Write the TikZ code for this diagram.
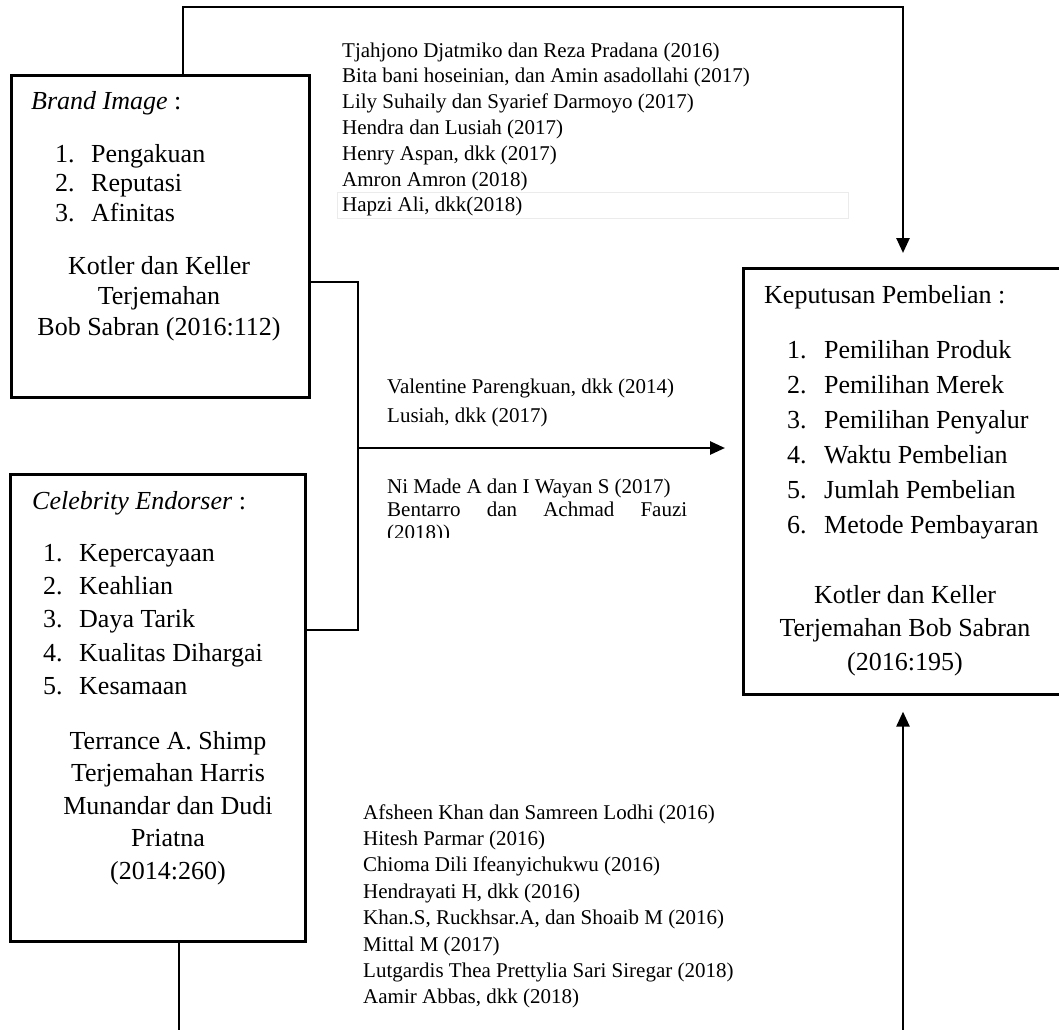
\documentclass[tikz,border=0pt]{standalone}
\usepackage{fontspec}
\setmainfont{Liberation Serif}
\usetikzlibrary{arrows.meta}
\begin{document}
\begin{tikzpicture}[x=1pt,y=-1pt,
  box/.style={draw, line width=2.6pt, inner sep=0pt, anchor=north west},
  conn/.style={line width=2.6pt},
  arr/.style={conn, -{Triangle[length=15pt,width=13pt]}},
  big/.style={inner sep=0pt, font=\fontsize{26}{30}\selectfont},
  ref/.style={inner sep=0pt, anchor=base west, font=\fontsize{21}{26}\selectfont},
  faint/.style={draw=black!8, line width=0.8pt}
]
\useasboundingbox (0,0) rectangle (1059,1029);
\fill[white] (0,0) rectangle (1059,1029);

% boxes
\node[box, minimum width=298pt, minimum height=322pt] (brand) at (10,74) {};
\node[box, minimum width=295pt, minimum height=467pt] (celeb) at (9,473) {};
\node[box, minimum width=330pt, minimum height=426pt] (kep) at (742,267) {};

% brand image box text
\node[big, anchor=base west] (btitle) at (31,109) {\textit{Brand Image} :};
\foreach \t [count=\i] in {Pengakuan,Reputasi,Afinitas}
  \node[big, anchor=base west, name=bl\i] at (55,{162+29.5*(\i-1)}) {\makebox[36pt][l]{\i.}\t};
\foreach \t [count=\i] in {{Kotler dan Keller},{Terjemahan},{Bob Sabran (2016:112)}}
  \node[big, anchor=base, name=bc\i] at (159,{274+30.5*(\i-1)}) {\t};

% celebrity endorser box text
\node[big, anchor=base west] (ctitle) at (32,509) {\textit{Celebrity Endorser} :};
\foreach \t [count=\i] in {Kepercayaan,Keahlian,{Daya Tarik},{Kualitas Dihargai},Kesamaan}
  \node[big, anchor=base west, name=cl\i] at (43,{561+33.4*(\i-1)}) {\makebox[36pt][l]{\i.}\t};
\foreach \t [count=\i] in {{Terrance A. Shimp},{Terjemahan Harris},{Munandar dan Dudi},{Priatna},{(2014:260)}}
  \node[big, anchor=base, name=cc\i] at (168,{749+32.5*(\i-1)}) {\t};

% keputusan pembelian box text
\node[big, anchor=base west] (ktitle) at (764,303) {Keputusan Pembelian :};
\foreach \t [count=\i] in {{Pemilihan Produk},{Pemilihan Merek},{Pemilihan Penyalur},{Waktu Pembelian},{Jumlah Pembelian},{Metode Pembayaran}}
  \node[big, anchor=base west, name=kl\i] at (787,{358+35*(\i-1)}) {\makebox[37pt][l]{\i.}\t};
\foreach \t [count=\i] in {{Kotler dan Keller},{Terjemahan Bob Sabran},{(2016:195)}}
  \node[big, anchor=base, name=kc\i] at (905,{603+33.5*(\i-1)}) {\t};

% connectors
\coordinate (tl) at (183,7);
\coordinate (tr) at (903,7);
\coordinate (kt) at (kep.north -| tr);
\draw[arr] (brand.north west -| tl) -- (tl) -- (tr) -- ([yshift=14pt]kt);

\coordinate (jt) at (358,282);
\coordinate (jb) at (358,630);
\coordinate (jm) at (358,448);
\coordinate (ka) at (kep.west |- jm);
\draw[conn] (brand.east |- jt) -- (jt) -- (jb) -- (celeb.east |- jb);
\draw[arr] (jm) -- ([xshift=-17pt]ka);

\coordinate (cb) at (179,1036);
\draw[conn] (celeb.south -| cb) -- (cb);
\coordinate (rb) at (903,1036);
\coordinate (kb) at (kep.south -| rb);
\draw[arr] (rb) -- ([yshift=-16pt]kb);

% top references
\draw[faint] (337,192) rectangle (848,218);
\foreach \t [count=\i] in {{Tjahjono Djatmiko dan Reza Pradana (2016)},{Bita bani hoseinian, dan Amin asadollahi (2017)},{Lily Suhaily dan Syarief Darmoyo (2017)},{Hendra dan Lusiah (2017)},{Henry Aspan, dkk (2017)},{Amron Amron (2018)},{Hapzi Ali, dkk(2018)}}
  \node[ref, name=tr\i] at (342,{57+25.8*(\i-1)}) {\t};

% middle references
\node[ref] (m1) at (387,393) {Valentine Parengkuan, dkk (2014)};
\node[ref] (m2) at (387,422) {Lusiah, dkk (2017)};
\node[ref] (m3) at (387,493) {Ni Made A dan I Wayan S (2017)};
\node[ref] (m4) at (387,516) {\hbox to 300pt{Bentarro\hfill dan\hfill Achmad\hfill Fauzi}};
\begin{scope}
  \clip (380,440) rectangle (720,537);
  \node[ref] (m5) at (387,539) {(2018))};
\end{scope}

% bottom references
\foreach \t [count=\i] in {{Afsheen Khan dan Samreen Lodhi (2016)},{Hitesh Parmar (2016)},{Chioma Dili Ifeanyichukwu (2016)},{Hendrayati H, dkk (2016)},{Khan.S, Ruckhsar.A, dan Shoaib M (2016)},{Mittal M (2017)},{Lutgardis Thea Prettylia Sari Siregar (2018)},{Aamir Abbas, dkk (2018)}}
  \node[ref, name=br\i] at (363,{819+26.4*(\i-1)}) {\t};
\end{tikzpicture}
\end{document}
